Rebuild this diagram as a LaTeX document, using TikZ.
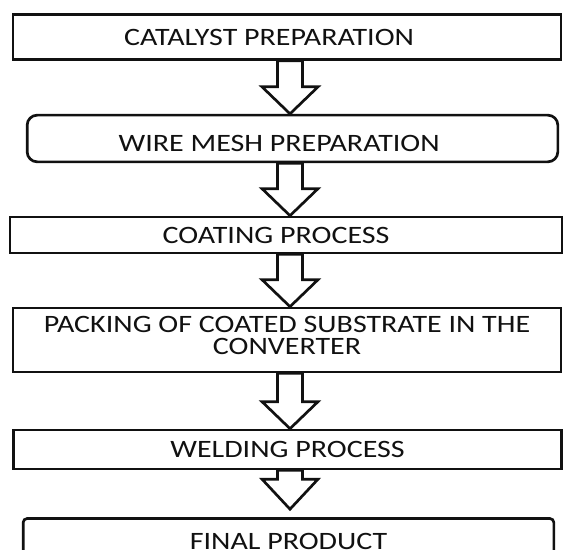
\documentclass[tikz,border=0pt]{standalone}
\usepackage{fontspec}
\setmainfont{Carlito}[FakeStretch=1.2]
\usepackage{xcolor}
\usepackage{tikz}
\usetikzlibrary{calc}
\definecolor{flowInk}{HTML}{111111}

\tikzset{
  headlen/.store in=\headlen, headlen=27,
  tipgap/.store in=\tipgap, tipgap=0,
}

\begin{document}
\begin{tikzpicture}[
  x=0.75pt, y=-0.75pt,
  every node/.style={font=\fontsize{18.75}{16}\selectfont, align=center,
                     inner sep=0pt, text=flowInk},
  stage/.style={draw=flowInk, line width=2pt, fill=white,
                minimum width=411pt, minimum height=33.75pt},
  roundstage/.style={stage, rounded corners=7.5pt,
                     minimum width=398pt},
  blockarrow/.style={draw=flowInk, fill=white, line width=2pt,
    line join=miter,
    to path={($(\tikztostart.south -| axis)+(-12.5,0)$)
      -- ($(\tikztotarget.north -| axis)+(-12.5,-\headlen-\tipgap)$)
      -- ($(\tikztotarget.north -| axis)+(-28,-\headlen-\tipgap)$)
      -- ($(\tikztotarget.north -| axis)+(0,-\tipgap)$)
      -- ($(\tikztotarget.north -| axis)+(28,-\headlen-\tipgap)$)
      -- ($(\tikztotarget.north -| axis)+(12.5,-\headlen-\tipgap)$)
      -- ($(\tikztostart.south -| axis)+(12.5,0)$) -- cycle}},
]
\useasboundingbox (0,0) rectangle (563,549);
\clip (0,0) rectangle (563,549);

% --- Process stages, top to bottom ---------------------------------
% Some captions sit a little off their box centre.
\node[stage, label={[xshift=-13.5pt]center:CATALYST PREPARATION}]
  (catalyst) at (287, 37) {};
\node[roundstage, minimum height=35pt,
      label={[xshift=-10pt, yshift=-3.4pt]center:WIRE MESH PREPARATION}]
  (mesh) at (292.5, 138.5) {};
\node[stage, minimum width=414pt, minimum height=27pt,
      label={[xshift=-7.5pt]center:COATING PROCESS}]
  (coating) at (286, 235) {};
\node[stage, minimum height=48pt,
      label={[yshift=3.4pt]center:PACKING OF COATED SUBSTRATE IN THE\\CONVERTER}]
  (packing) at (287, 340) {};
\node[stage, minimum height=29.25pt] (welding) at (287.5, 449.5)
  {WELDING PROCESS};
\node[roundstage, rounded corners=3pt] (final) at (288.5, 541)
  {FINAL PRODUCT};

% Common vertical axis of the block arrows.
\coordinate (axis) at (290, 0);

% --- Hollow block arrows between the stages ------------------------
\draw[blockarrow] (catalyst) to (mesh);
\draw[blockarrow] (mesh)     to (coating);
\draw[blockarrow] (coating)  to (packing);
\draw[blockarrow] (packing)  to (welding);
\draw[blockarrow, headlen=30, tipgap=8] (welding) to (final);
\end{tikzpicture}
\end{document}
